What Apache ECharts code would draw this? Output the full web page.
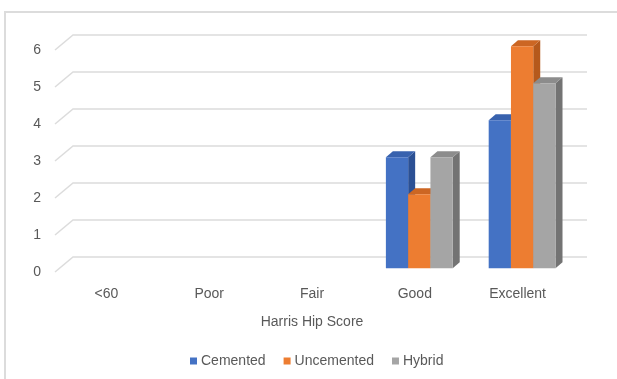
<!DOCTYPE html>
<html>
<head>
<meta charset="utf-8">
<script src="https://cdn.jsdelivr.net/npm/echarts@6/dist/echarts.min.js"></script>
<style>
  html, body { margin: 0; padding: 0; background: #fff; }
  #chart { width: 617px; height: 379px; }
</style>
</head>
<body>
<div id="chart"></div>
<script>
// Harris Hip Score by fixation type
const categories = ['<60', 'Poor', 'Fair', 'Good', 'Excellent'];
const cemented = [0, 0, 0, 3, 4];
const uncemented = [0, 0, 0, 2, 6];
const hybrid = [0, 0, 0, 3, 5];
const yTicks = [0, 1, 2, 3, 4, 5, 6];
const seriesNames = ['Cemented', 'Uncemented', 'Hybrid'];

// face colours: front, side, top
const palette = [
  { front: '#4472C4', side: '#2B5094', top: '#3862AE' },
  { front: '#ED7D31', side: '#B5591C', top: '#CC6623' },
  { front: '#A5A5A5', side: '#737373', top: '#8C8C8C' }
];

// perspective offsets: back wall -> front floor edge
const WALL_DX = -18, WALL_DY = 15;
// bars sit part-way between back wall and front edge
const BAR_DX = -13.5, BAR_DY = 11.25;
// bar depth
const DEPTH_DX = 7, DEPTH_DY = -6;
const GROUP_RATIO = 0.65;

const chart = echarts.init(document.getElementById('chart'), null, { renderer: 'canvas' });

function gridRender(params, api) {
  const cs = params.coordSys;
  const y = api.coord([0, api.value(0)])[1];
  return {
    type: 'polyline',
    shape: { points: [[cs.x + WALL_DX, y + WALL_DY], [cs.x, y], [cs.x + cs.width, y]] },
    style: { stroke: '#DCDCDC', lineWidth: 1.5, fill: null },
    silent: true
  };
}

function makeBarRender(k) {
  const col = palette[k];
  return function (params, api) {
    const i = api.value(0);
    const v = api.value(1);
    if (!(v > 0)) return null;
    const top = api.coord([i, v]);
    const base = api.coord([i, 0]);
    const band = api.size([1, 0])[0];
    const groupW = band * GROUP_RATIO;
    const barW = groupW / 3;
    const x0 = top[0] - groupW / 2 + k * barW + BAR_DX;
    const x1 = x0 + barW;
    const yT = top[1] + BAR_DY;
    const yB = base[1] + BAR_DY;
    return {
      type: 'group',
      children: [
        {
          type: 'polygon',
          shape: { points: [[x1, yT], [x1 + DEPTH_DX, yT + DEPTH_DY], [x1 + DEPTH_DX, yB + DEPTH_DY], [x1, yB]] },
          style: { fill: col.side }
        },
        {
          type: 'polygon',
          shape: { points: [[x0, yT], [x0 + DEPTH_DX, yT + DEPTH_DY], [x1 + DEPTH_DX, yT + DEPTH_DY], [x1, yT]] },
          style: { fill: col.top }
        },
        {
          type: 'rect',
          shape: { x: x0, y: yT, width: barW, height: yB - yT },
          style: { fill: col.front }
        }
      ]
    };
  };
}

const values = [cemented, uncemented, hybrid];
const textColor = '#595959';
const fontFamily = 'Liberation Sans, Arial, sans-serif';

const barSeries = values.map((arr, k) => ({
  type: 'custom',
  name: seriesNames[k],
  xAxisIndex: 0,
  yAxisIndex: 0,
  renderItem: makeBarRender(k),
  itemStyle: { color: palette[k].front },
  data: arr.map((v, i) => [i, v]),
  z: 3 + k
}));

chart.setOption({
  animation: false,
  backgroundColor: '#fff',
  textStyle: { fontFamily: fontFamily },
  graphic: [
    {
      type: 'polyline',
      shape: { points: [[5, 379], [5, 12], [617, 12]] },
      style: { stroke: '#DCDCDC', lineWidth: 2, fill: null },
      silent: true
    }
  ],
  grid: [
    { left: 73, top: 35, width: 514, height: 222 },
    { left: 55, top: 50, width: 514, height: 222 }
  ],
  xAxis: [
    { type: 'category', gridIndex: 0, data: categories, show: false },
    {
      type: 'category', gridIndex: 1, data: categories,
      axisLine: { show: false }, axisTick: { show: false },
      axisLabel: { color: textColor, fontSize: 14, margin: 15, fontFamily: fontFamily },
      name: 'Harris Hip Score', nameLocation: 'middle', nameGap: 43,
      nameTextStyle: { color: textColor, fontSize: 14, fontFamily: fontFamily }
    }
  ],
  yAxis: [
    { type: 'value', gridIndex: 0, min: 0, max: 6, interval: 1, show: false },
    {
      type: 'value', gridIndex: 1, min: 0, max: 6, interval: 1,
      axisLine: { show: false }, axisTick: { show: false }, splitLine: { show: false },
      axisLabel: { color: textColor, fontSize: 14, margin: 14, fontFamily: fontFamily }
    }
  ],
  legend: {
    data: seriesNames,
    top: 349,
    left: 185,
    icon: 'rect',
    itemWidth: 7,
    itemHeight: 7,
    itemGap: 18,
    textStyle: { color: textColor, fontSize: 14, fontFamily: fontFamily, padding: [0, 0, 0, -1] }
  },
  series: [
    {
      type: 'custom',
      name: 'gridlines',
      xAxisIndex: 0,
      yAxisIndex: 0,
      renderItem: gridRender,
      data: yTicks.map(v => [v]),
      encode: { y: 0 },
      silent: true,
      z: 1
    }
  ].concat(barSeries)
});
</script>
</body>
</html>
